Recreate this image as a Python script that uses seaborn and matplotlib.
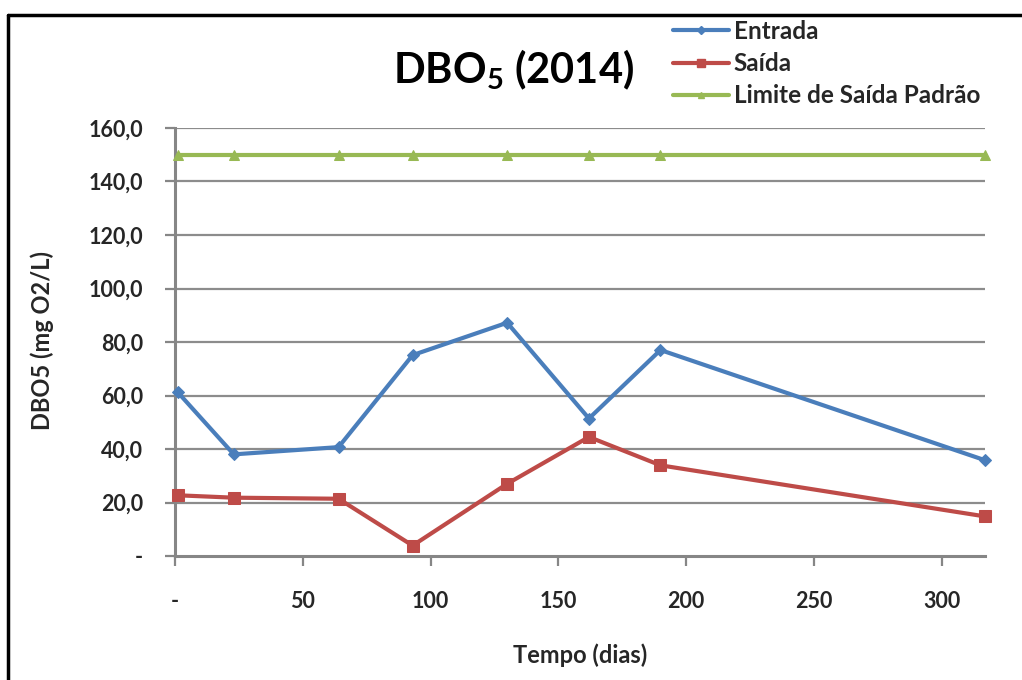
import matplotlib
matplotlib.use("Agg")
import matplotlib.pyplot as plt
import matplotlib.lines as mlines
import seaborn as sns
import pandas as pd

# Sampling days and DBO5 readings (mg O2/L)
dias = [1, 23, 64, 93, 130, 162, 190, 317]
entrada = [61.3, 38.0, 40.7, 75.1, 87.2, 51.4, 77.0, 35.8]
saida = [22.7, 21.8, 21.4, 3.9, 27.0, 44.5, 33.9, 14.8]
limite = [150.0, 150.0, 150.0, 150.0, 150.0, 150.0, 150.0, 150.0]

series_names = ["Entrada", "Saída", "Limite de Saída Padrão"]
y_ticks = [0, 20, 40, 60, 80, 100, 120, 140, 160]
x_ticks = [0, 50, 100, 150, 200, 250, 300]

df = pd.DataFrame({
    "dias": dias * 3,
    "valor": entrada + saida + limite,
    "serie": [series_names[0]] * len(dias) + [series_names[1]] * len(dias) + [series_names[2]] * len(dias),
})

sns.set_theme(style="white")
plt.rcParams["font.family"] = ["Lato", "DejaVu Sans"]

colors = {"Entrada": "#4A7EBB", "Saída": "#BE4B48", "Limite de Saída Padrão": "#98B954"}
markers = {"Entrada": "D", "Saída": "s", "Limite de Saída Padrão": "^"}
msizes = {"Entrada": 6, "Saída": 8, "Limite de Saída Padrão": 7}

fig = plt.figure(figsize=(10.22, 6.8), dpi=100)
ax = fig.add_axes([175 / 1022, 1 - 556 / 680, 810 / 1022, 428 / 680])

for name in series_names:
    sub = df[df["serie"] == name]
    sns.lineplot(data=sub, x="dias", y="valor", ax=ax, color=colors[name],
                 marker=markers[name], markersize=msizes[name],
                 markeredgecolor=colors[name], linewidth=3.0, legend=False,
                 zorder=3, clip_on=False)

ax.set_xlim(0, 317)
ax.set_ylim(0, 160)
ax.set_yticks(y_ticks)
ax.set_yticklabels(["-" if v == 0 else f"{v:.1f}".replace(".", ",") for v in y_ticks])
ax.set_xticks(x_ticks)
ax.set_xticklabels(["-" if v == 0 else str(v) for v in x_ticks])

for v in y_ticks[1:]:
    ax.axhline(v, color="#8C8C8C", linewidth=1.6, zorder=1)

for s in ["top", "right"]:
    ax.spines[s].set_visible(False)
for s in ["left", "bottom"]:
    ax.spines[s].set_color("#868686")
    ax.spines[s].set_linewidth(2.2)

ax.tick_params(axis="both", which="major", direction="out", length=7, width=1.6,
               color="#868686", labelsize=15.5, labelcolor="#262626")
ax.tick_params(axis="x", pad=18, bottom=True)
ax.tick_params(axis="y", pad=16, left=True)
for lab in ax.get_xticklabels() + ax.get_yticklabels():
    lab.set_fontweight("bold")

ax.set_xlabel("Tempo (dias)", fontsize=17, fontweight="bold", color="#262626")
ax.set_ylabel("DBO5 (mg O2/L)", fontsize=17, fontweight="bold", color="#262626")
ax.xaxis.set_label_coords((580 - 175) / 810, -(655 - 556) / 428)
ax.yaxis.set_label_coords((42 - 175) / 810, (556 - 340) / 428)
ax.xaxis.label.set_va("center")
ax.yaxis.label.set_va("center")

fig.text(514 / 1022, 1 - 70 / 680, r"DBO$\mathregular{_5}$ (2014)", ha="center", va="center",
         fontsize=30, fontweight="bold", color="#000000")

handles = [mlines.Line2D([], [], color=colors[n], marker=markers[n], markersize=msizes[n] - 2,
                         linewidth=3.0) for n in series_names]
fig.legend(handles, series_names, loc="upper left", bbox_to_anchor=(673 / 1022, 1 - 20 / 680),
           frameon=False, handlelength=2.3, handletextpad=0.2,
           labelspacing=0.38, borderaxespad=0, borderpad=0,
           prop={"weight": "bold", "size": 17.5}, labelcolor="#262626")

# Outer frame: top and left edges
fig.add_artist(mlines.Line2D([8 / 1022, 1.0], [1 - 15 / 680, 1 - 15 / 680],
                             transform=fig.transFigure, color="black", linewidth=2.5))
fig.add_artist(mlines.Line2D([8 / 1022, 8 / 1022], [0.0, 1 - 15 / 680],
                             transform=fig.transFigure, color="black", linewidth=2.5))

fig.savefig("out.png", dpi=100, facecolor="white")
